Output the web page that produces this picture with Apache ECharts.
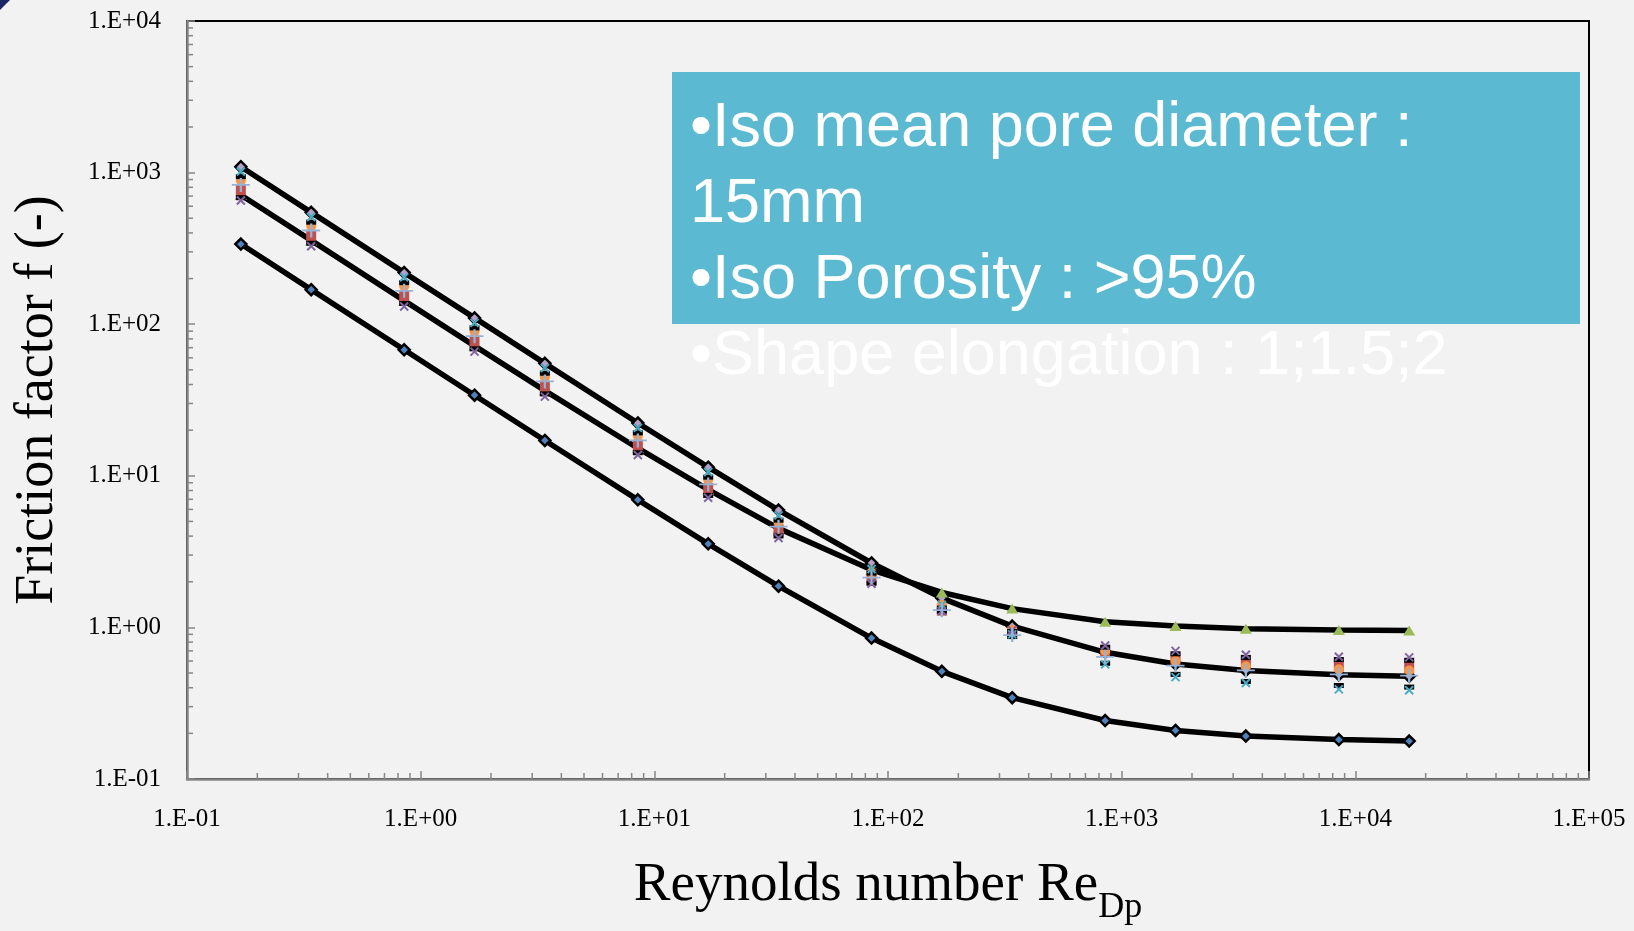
<!DOCTYPE html>
<html>
<head>
<meta charset="utf-8">
<script src="https://cdn.jsdelivr.net/npm/echarts@6/dist/echarts.min.js"></script>
<style>
  html, body { margin: 0; padding: 0; background: #f2f2f2; }
  #chart { width: 1634px; height: 931px; }
</style>
</head>
<body>
<div id="chart"></div>
<script>
// Reynolds numbers of the measured points
var re = [0.17, 0.34, 0.85, 1.7, 3.4, 8.5, 17, 34, 85, 170, 340, 850, 1700, 3400, 8500, 17000];

// black correlation curves
var lineTop = [1094, 547, 219, 110, 55.2, 22.3, 11.4, 5.94, 2.66, 1.56, 1.02, 0.685, 0.574, 0.52, 0.487, 0.476];
var lineMid = [711, 357, 143, 72, 36.5, 15.2, 8.1, 4.5, 2.4, 1.7, 1.33, 1.09, 1.02, 0.98, 0.96, 0.955];
var lineLow = [338, 169, 67.8, 34, 17.1, 6.94, 3.56, 1.87, 0.85, 0.513, 0.344, 0.243, 0.209, 0.192, 0.182, 0.178];

// measured points
var cyanX   = [1018, 509, 204, 102, 51.3, 20.7, 10.6, 5.48, 2.43, 1.41, 0.9, 0.57, 0.47, 0.43, 0.39, 0.385];
var orangeO = [888, 444, 178, 89.3, 44.9, 18.3, 9.4, 4.96, 2.3, 1.41, 0.96, 0.7, 0.6, 0.555, 0.53, 0.52];
var bluePlus = [829, 415, 166, 83.4, 41.9, 17.1, 8.77, 4.62, 2.13, 1.3, 0.89, 0.64, 0.56, 0.52, 0.49, 0.48];
var redSq   = [765, 383, 153, 77, 38.8, 15.8, 8.19, 4.37, 2.07, 1.31, 0.93, 0.7, 0.62, 0.58, 0.56, 0.55];
var blackA  = [683, 342, 137, 68.8, 34.7, 14.2, 7.42, 4.01, 1.96, 1.28, 0.94, 0.74, 0.67, 0.634, 0.614, 0.607];
var blackB  = [941, 471, 188, 94.5, 47.5, 19.2, 9.8, 5.1, 2.28, 1.34, 0.87, 0.58, 0.49, 0.44, 0.414, 0.404];
var purpleX = [654, 327, 131, 65.9, 33.3, 13.7, 7.16, 3.89, 1.94, 1.28, 0.96, 0.76, 0.7, 0.66, 0.64, 0.634];

// tick labels by decade
var xTickLabels = ['1.E-01', '1.E+00', '1.E+01', '1.E+02', '1.E+03', '1.E+04', '1.E+05'];
var yTickLabels = ['1.E-01', '1.E+00', '1.E+01', '1.E+02', '1.E+03', '1.E+04'];

var boxLines = ['\u2022Iso mean pore diameter :', '15mm', '\u2022Iso Porosity : >95%', '\u2022Shape elongation : 1;1.5;2'];

var axisGray = '#868686';
var serif = '"Liberation Serif", "Times New Roman", serif';

function pairs(ys) {
  return re.map(function(x, i) { return [x, ys[i]]; });
}

// minor tick positions 2..9 in each decade
var xMinor = [], yMinor = [];
for (var k = -1; k < 5; k++) {
  for (var m = 2; m < 10; m++) {
    xMinor.push([m * Math.pow(10, k), 0.1]);
    if (k < 4) yMinor.push([0.1, m * Math.pow(10, k)]);
  }
}

function decade(v) { return Math.round(Math.log10(v)) + 1; }

var chart = echarts.init(document.getElementById('chart'));

function lineSeries(data, symbol, size, fill, border) {
  return {
    type: 'line',
    data: pairs(data),
    symbol: symbol,
    symbolSize: size,
    itemStyle: { color: fill, borderColor: border, borderWidth: border ? 2.5 : 0 },
    lineStyle: { color: '#000', width: 5.5 },
    z: 2
  };
}

function pointSeries(data, symbol, size, color, stroke) {
  return {
    type: 'scatter',
    data: pairs(data),
    symbol: symbol,
    symbolSize: size,
    itemStyle: stroke
      ? { color: 'rgba(0,0,0,0)', borderColor: color, borderWidth: stroke, opacity: 1 }
      : { color: color, opacity: 1 },
    z: 3
  };
}

function tickSeries(data, dx, dy) {
  return {
    type: 'custom',
    data: data,
    silent: true,
    z: 4,
    renderItem: function(params, api) {
      var p = api.coord([api.value(0), api.value(1)]);
      return {
        type: 'line',
        shape: { x1: p[0], y1: p[1], x2: p[0] + dx, y2: p[1] + dy },
        style: { stroke: axisGray, lineWidth: 1.5 }
      };
    }
  };
}

var xPath = 'path://M0,0L10,10M10,0L0,10';
var plusPath = 'path://M0,5L10,5M5,0L5,10';

chart.setOption({
  animation: false,
  backgroundColor: '#f2f2f2',
  grid: {
    left: 187, right: 45, top: 21, bottom: 144,
    show: true, borderColor: '#000', borderWidth: 2,
    backgroundColor: 'transparent'
  },
  xAxis: {
    type: 'log',
    logBase: 10,
    min: 0.1,
    max: 100000,
    name: '{a|Reynolds number Re}{b|Dp}',
    nameLocation: 'middle',
    nameGap: 67,
    nameTextStyle: {
      rich: {
        a: { fontFamily: serif, fontSize: 55, color: '#000', lineHeight: 80 },
        b: { fontFamily: serif, fontSize: 36, color: '#000', lineHeight: 80, verticalAlign: 'bottom' }
      }
    },
    axisLine: { onZero: false, lineStyle: { color: axisGray, width: 2.5 } },
    axisTick: { inside: true, length: 8, lineStyle: { color: axisGray, width: 1.5 } },
    splitLine: { show: false },
    axisLabel: {
      margin: 28,
      fontFamily: serif,
      fontSize: 25,
      color: '#000',
      formatter: function(v) { return xTickLabels[decade(v)]; }
    }
  },
  yAxis: {
    type: 'log',
    logBase: 10,
    min: 0.1,
    max: 10000,
    name: 'Friction factor f (-)',
    nameLocation: 'middle',
    nameRotate: 90,
    nameGap: 122,
    nameTextStyle: { fontFamily: serif, fontSize: 54, color: '#000' },
    axisLine: { onZero: false, lineStyle: { color: axisGray, width: 2.5 } },
    axisTick: { inside: true, length: 8, lineStyle: { color: axisGray, width: 1.5 } },
    splitLine: { show: false },
    axisLabel: {
      margin: 26,
      fontFamily: serif,
      fontSize: 25,
      color: '#000',
      formatter: function(v) { return yTickLabels[decade(v)]; }
    }
  },
  graphic: [
    {
      type: 'polygon',
      shape: { points: [[0, 0], [10, 0], [0, 10]] },
      style: { fill: '#1c2566' }
    },
    {
      type: 'rect',
      shape: { x: 672, y: 72, width: 908, height: 252 },
      style: { fill: '#5bb9d1' },
      z: 100
    },
    {
      type: 'text',
      x: 690,
      y: 91,
      z: 101,
      style: {
        text: boxLines.join('\n'),
        fill: '#fff',
        font: '63px "Liberation Sans", Arial, sans-serif',
        lineHeight: 76,
        align: 'left',
        verticalAlign: 'top'
      }
    }
  ],
  series: [
    lineSeries(lineLow, 'diamond', 11, '#4f81bd', '#000'),
    lineSeries(lineTop, 'diamond', 11, '#b3a2c7', '#000'),
    lineSeries(lineMid, 'triangle', [12, 10], '#9bbb59', null),
    pointSeries(redSq, 'rect', [10, 12], '#c0504d'),
    pointSeries(orangeO, 'circle', 10, '#f79646'),
    pointSeries(blackA, 'rect', [10, 5], '#000'),
    pointSeries(blackB, 'rect', [10, 5], '#000'),
    pointSeries(cyanX, xPath, 8, '#4bacc6', 2),
    pointSeries(purpleX, xPath, 8, '#8064a2', 2),
    pointSeries(bluePlus, plusPath, [18, 14], '#95b3d7', 2),
    tickSeries(xMinor, 0, -6),
    tickSeries(yMinor, 6, 0)
  ]
});
window.addEventListener('resize', function() { chart.resize(); });
</script>
</body>
</html>
